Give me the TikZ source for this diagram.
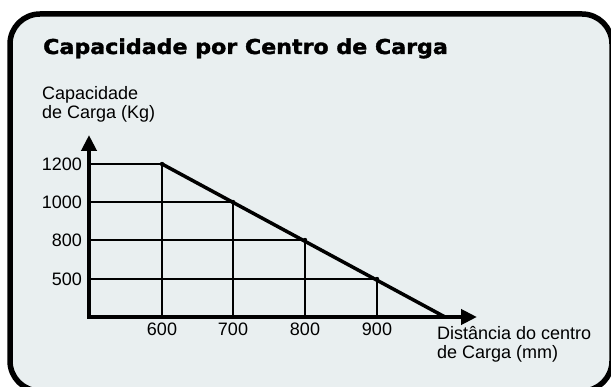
\documentclass[tikz,border=0pt]{standalone}
\usepackage{fontspec}
\setmainfont{Liberation Sans}
\newfontfamily\titlefont[BoldFeatures={FakeBold=1.6}]{DejaVu Sans}
\usetikzlibrary{arrows.meta}

\definecolor{panel}{RGB}{233,239,240}

\begin{document}
\begin{tikzpicture}[x=1pt,y=-1pt,
    grid/.style={line width=1.6pt},
    axis/.style={line width=4pt,line join=miter,
        {Triangle[length=16pt,width=15pt]}-{Triangle[length=16pt,width=15pt]}},
    lbl/.style={inner sep=0pt,font=\fontsize{18}{19}\selectfont}]

\useasboundingbox (0,0) rectangle (611,387);
\clip (0,0) rectangle (611,387);

\draw [line width=5.5pt, rounded corners=30pt, fill=panel] (10,14) rectangle (612,391);

\node (title) [anchor=base west, inner sep=0pt] at (43,54)
    {\scalebox{1.08}[1]{\titlefont\bfseries\fontsize{20.5}{24}\selectfont Capacidade por Centro de Carga}};

\coordinate (O) at (89,317);
\coordinate (ytop) at (89,135);
\coordinate (xtop) at (477,317);
\coordinate (zero) at (445,317);

\foreach \x/\px/\c/\py in {600/162/1200/164, 700/233/1000/202, 800/305/800/240, 900/377/500/279}
{
    \coordinate (p\x) at (\px,\py);
    \draw [grid] (O |- p\x) -- (p\x) -- (O -| p\x);
    \node (xl\x) [lbl, anchor=base] at (\px,336) {\x};
    \node (yl\c) [lbl, anchor=east] at (82,\py) {\c};
}

\draw [axis] (ytop) -- (O) -- (xtop);

\draw [line width=3.5pt] (p600) -- (zero);

\foreach \x in {600,700,800,900}
    \fill (p\x) circle (2.2pt);

\node (ylab) [lbl, align=left, anchor=north west] at (42,86) {Capacidade\\de Carga (Kg)};
\node (xlab) [lbl, align=left, anchor=north west] at (437,326) {Distância do centro\\de Carga (mm)};

\end{tikzpicture}
\end{document}
